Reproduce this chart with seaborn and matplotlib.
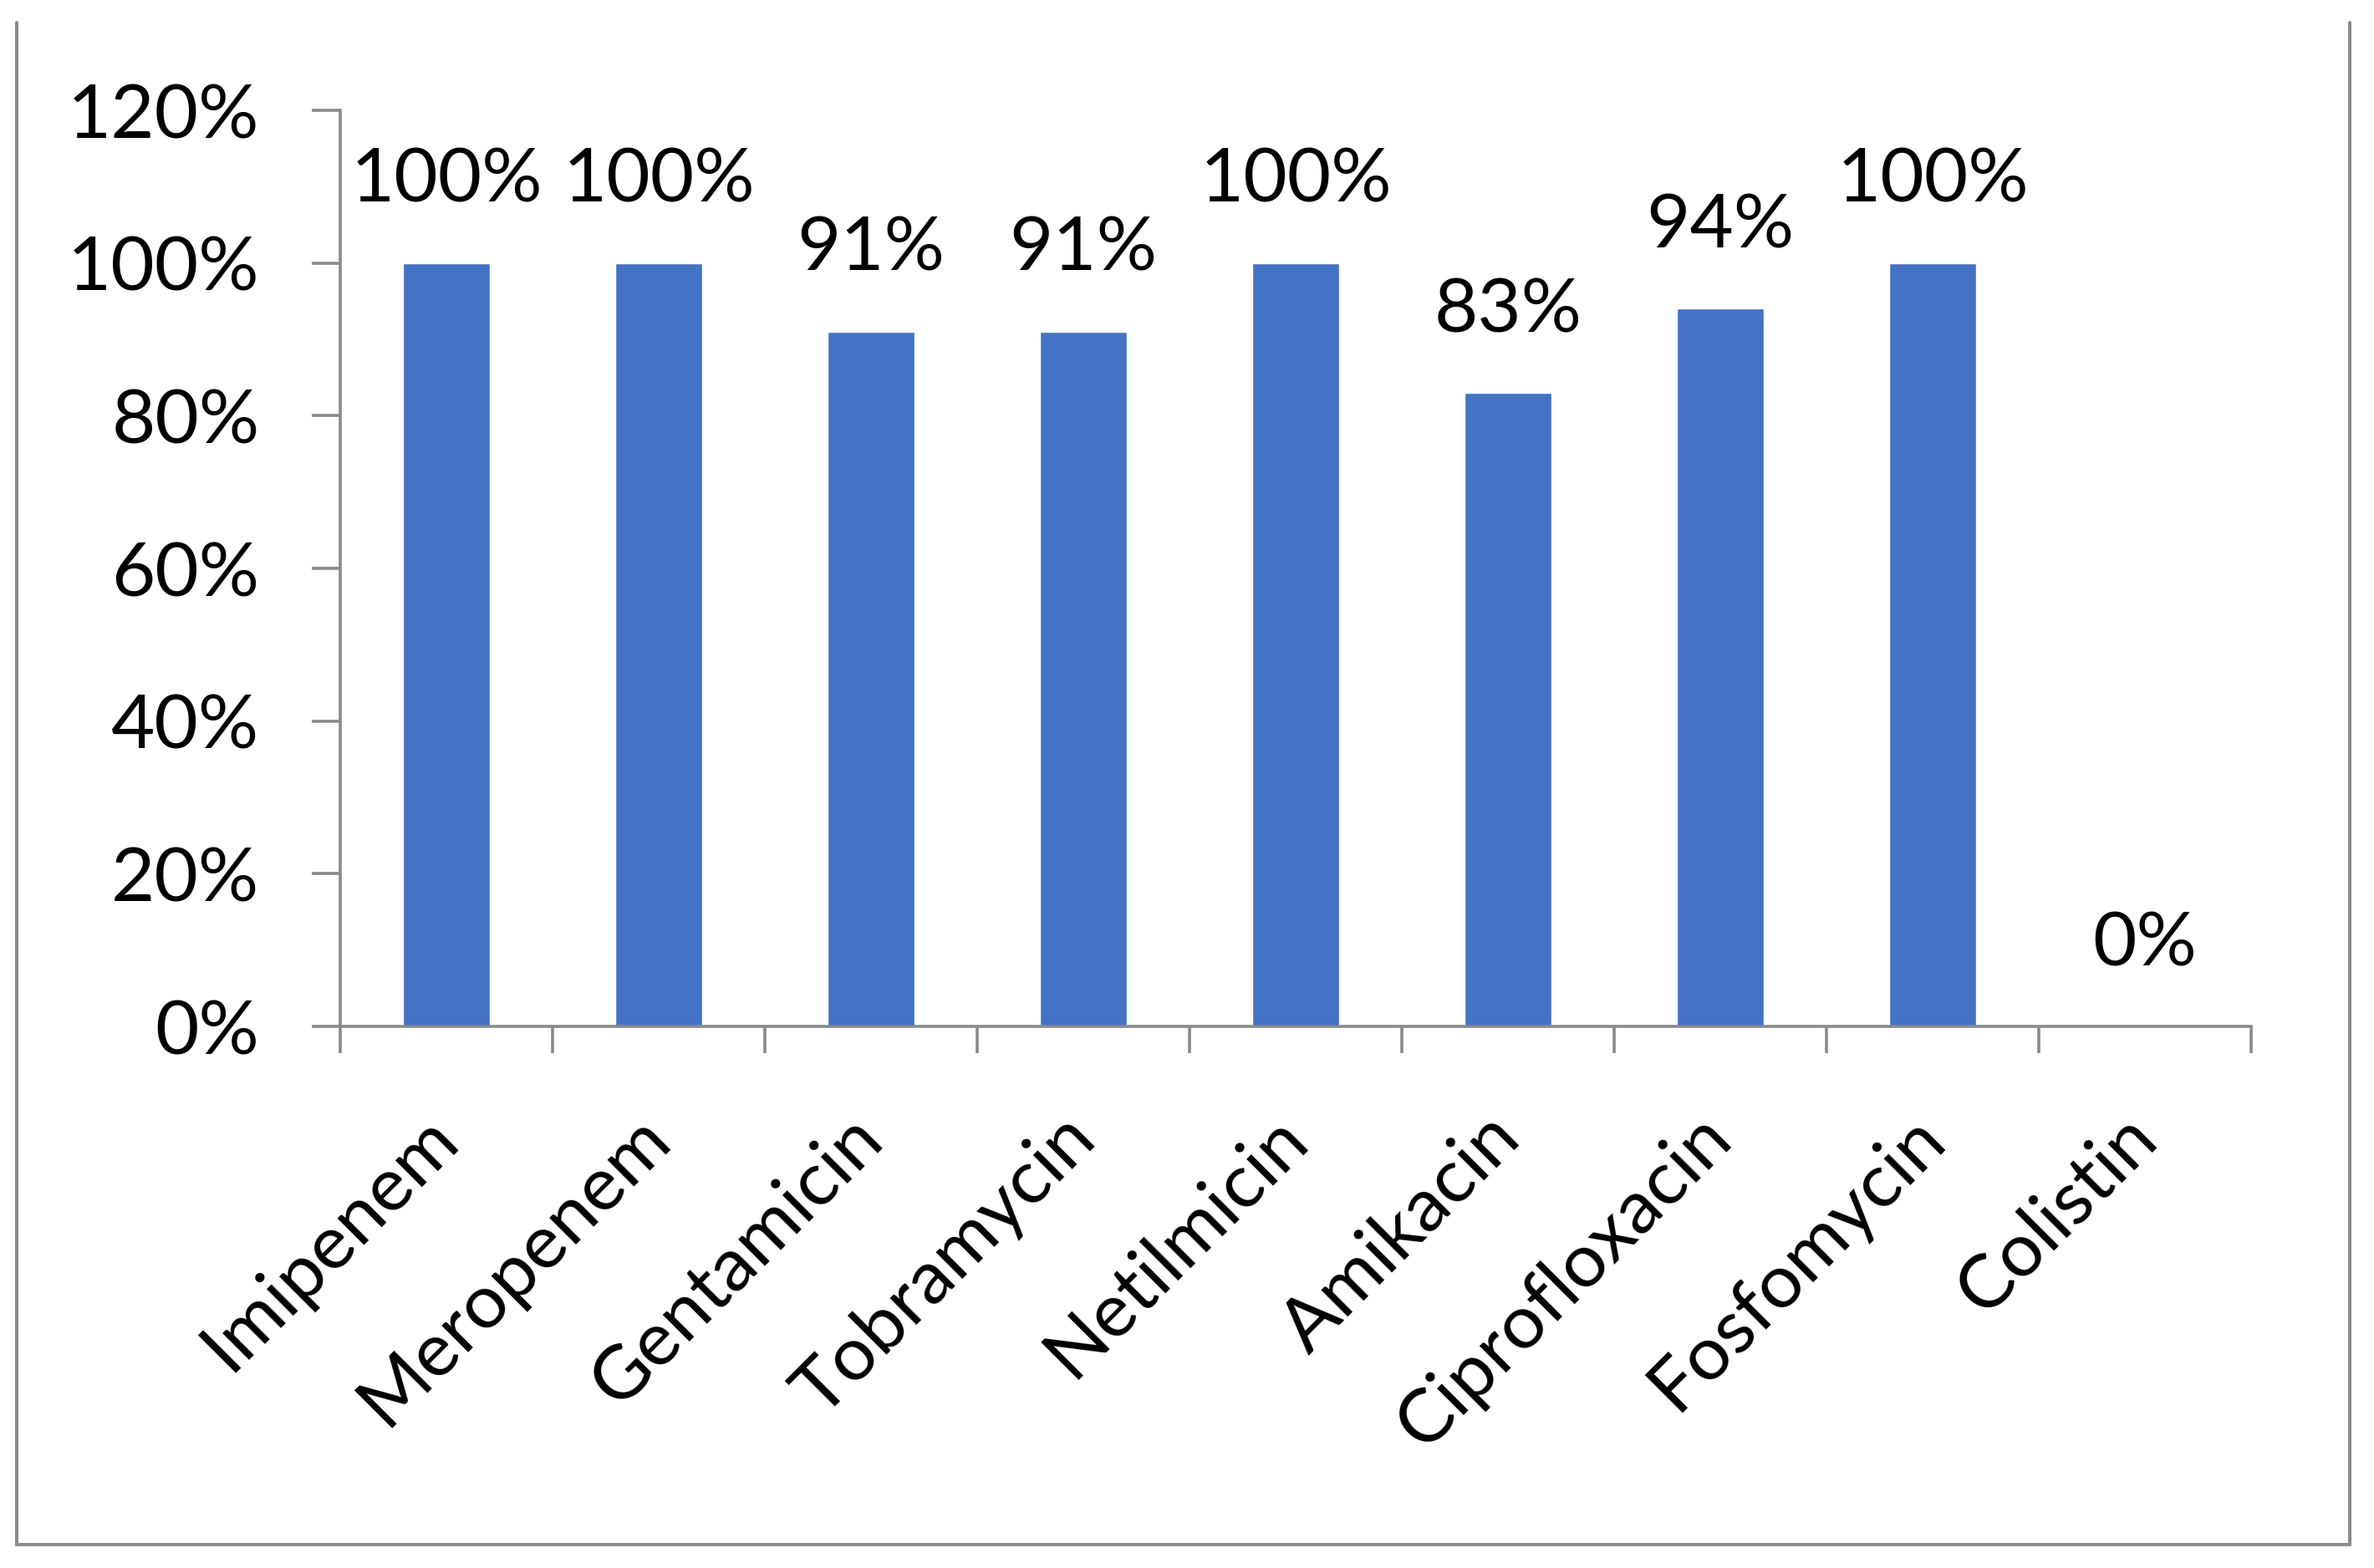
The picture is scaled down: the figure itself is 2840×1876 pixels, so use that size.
import matplotlib
matplotlib.use("Agg")
import matplotlib.pyplot as plt
from matplotlib.ticker import PercentFormatter, FixedLocator
from matplotlib.lines import Line2D
import seaborn as sns
import pandas as pd

categories = ["Imipenem", "Meropenem", "Gentamicin", "Tobramycin", "Netilmicin",
              "Amikacin", "Ciprofloxacin", "Fosfomycin", "Colistin"]
values = [1.00, 1.00, 0.91, 0.91, 1.00, 0.83, 0.94, 1.00, 0.00]
y_ticks = [0.0, 0.2, 0.4, 0.6, 0.8, 1.0, 1.2]

sns.set_style("white")
plt.rcParams["font.family"] = ["Lato", "DejaVu Sans"]

DPI = 100
W, H = 2840, 1876
fig = plt.figure(figsize=(W / DPI, H / DPI), dpi=DPI)
fig.patch.set_facecolor("white")

left, right = 407 / W, 2693 / W
bottom, top = 1 - 1228 / H, 1 - 132 / H
ax = fig.add_axes([left, bottom, right - left, top - bottom])

df = pd.DataFrame({"drug": categories, "value": values})
sns.barplot(data=df, x="drug", y="value", color="#4472C4", saturation=1,
            width=0.41, ax=ax, errorbar=None)

gray = "#8a8a8a"
fs = 65
ax.set_xlim(-0.5, len(categories) - 0.5)
ax.set_ylim(0, 1.2)
ax.set_yticks(y_ticks)
ax.yaxis.set_major_formatter(PercentFormatter(1.0, decimals=0))
ax.set_xlabel("")
ax.set_ylabel("")

for s in ["top", "right"]:
    ax.spines[s].set_visible(False)
for s in ["left", "bottom"]:
    ax.spines[s].set_color(gray)
    ax.spines[s].set_linewidth(2.6)

ax.tick_params(axis="y", direction="out", length=24.5, width=2.6, color=gray,
               pad=45, labelsize=fs, labelcolor="black", left=True)
ax.xaxis.set_minor_locator(FixedLocator([i - 0.5 for i in range(len(categories) + 1)]))
ax.tick_params(axis="x", which="minor", direction="out", length=23, width=2.6,
               color=gray, bottom=True)
ax.tick_params(axis="x", which="major", length=0, pad=86, labelsize=fs,
               labelcolor="black", bottom=True)
for lab in ax.get_xticklabels():
    lab.set_rotation(45)
    lab.set_ha("right")
    lab.set_va("center")
    lab.set_rotation_mode("anchor")

for i, v in enumerate(values):
    ax.annotate(f"{v * 100:.0f}%", xy=(i, v), xytext=(0, 52.5),
                textcoords="offset points", ha="center", va="baseline",
                fontsize=fs, color="black")

# outer frame (open at top)
fx0, fx1 = 20 / W, 2811 / W
fy0, fy1 = 1 - 1848 / H, 1 - 27 / H
frame = Line2D([fx0, fx0, fx1, fx1], [fy1, fy0, fy0, fy1], transform=fig.transFigure,
               color=gray, linewidth=2.9, solid_joinstyle="miter")
fig.add_artist(frame)

fig.savefig("out.png", dpi=DPI, facecolor="white")
